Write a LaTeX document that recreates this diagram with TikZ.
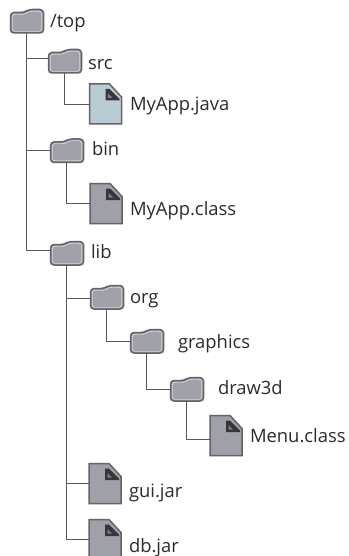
\documentclass[tikz,border=0pt]{standalone}
\usepackage{fontspec}
\setmainfont{Open Sans}
\definecolor{iconline}{HTML}{636468}
\definecolor{iconfill}{HTML}{A0A1A8}
\definecolor{javafill}{HTML}{B9CCD3}
\definecolor{cornerdark}{HTML}{35353A}
\definecolor{branchline}{HTML}{58585C}
\definecolor{labeltext}{HTML}{2B2B2D}
\newcommand{\foldershape}{(0,3.5) -- (14,3.5) -- (18,0.5) -- (33,0.5) -- (33,24) -- (0,24) -- cycle}
\newcommand{\foldertrim}{(1.8,5.3) -- (14.7,5.3) -- (18.7,2.3) -- (31.2,2.3) -- (31.2,22.3) -- (1.8,22.3) -- cycle}
\tikzset{
  every node/.style={inner sep=0pt, outer sep=0pt},
  folderbox/.style={minimum width=31pt, minimum height=24pt,
    append after command={\pgfextra{
      \draw [iconline, line width=1.5pt, fill=iconfill, rounded corners=3.5pt, shift={(\tikzlastnode.north west)}] \foldershape;
      \draw [white, line width=0.35pt, rounded corners=2.5pt, shift={(\tikzlastnode.north west)}] \foldertrim;
    }}},
  filebox/.style={minimum width=32pt, minimum height=40pt,
    append after command={\pgfextra{
      \draw [iconline, line width=1.5pt, fill=#1, shift={(\tikzlastnode.north west)}] (0,0) -- (20,0) -- (32,13) -- (32,40) -- (0,40) -- cycle;
      \fill [cornerdark, shift={(\tikzlastnode.north west)}] (16,5) -- (20,5) -- (30,15) -- (30,16.5) -- (16,16.5) -- cycle;
      \fill [gray, shift={(\tikzlastnode.north west)}] (18.5,9.5) -- (18.5,14) -- (23,14) -- cycle;
    }}},
  filebox/.default=iconfill,
  branch/.style={branchline, line width=0.9pt},
  itemlabel/.style={anchor=base west, text=labeltext, font=\fontsize{18.4}{20}\selectfont},
}
\begin{document}
\begin{tikzpicture}[x=1pt, y=-1pt]
\useasboundingbox (0,0) rectangle (348,556);

\node [folderbox] (top) at (26,21) {};
\node [folderbox] (src) at (64,61) {};
\node [folderbox] (bin) at (66,150.5) {};
\node [folderbox] (lib) at (66,253) {};
\node [folderbox] (org) at (106,297) {};
\node [folderbox] (graphics) at (146,341) {};
\node [folderbox] (draw3d) at (186,389) {};

\node [filebox=javafill] (java) at (105.5,104) {};
\node [filebox] (class) at (106,203.5) {};
\node [filebox] (menu) at (226,435.5) {};
\node [filebox] (gui) at (105,483.5) {};
\node [filebox] (db) at (105,539.5) {};

\draw [branch] (top.south) |- ([yshift=3pt]src.west);
\draw [branch] (top.south) |- (bin.west);
\draw [branch] (top.south) |- ([yshift=3pt]lib.west);
\draw [branch] (src.south) |- (java.west);
\draw [branch] (bin.south) |- (class.west);
\draw [branch] (lib.south) |- ([yshift=-1pt]org.west);
\draw [branch] (lib.south) |- (gui.west);
\draw [branch] (lib.south) |- (db.west);
\draw [branch] (org.south) |- (graphics.west);
\draw [branch] (graphics.south) |- (draw3d.west);
\draw [branch] (draw3d.south) |- ([yshift=-3.5pt]menu.west);

\node [itemlabel] (toplabel) at (50,28) {/top};
\node [itemlabel] (srclabel) at (88,70) {src};
\node [itemlabel] (javalabel) at (130,111) {MyApp.java};
\node [itemlabel] (binlabel) at (92,156) {bin};
\node [itemlabel] (classlabel) at (130,215) {MyApp.class};
\node [itemlabel] (liblabel) at (91,258) {lib};
\node [itemlabel] (orglabel) at (130,303) {org};
\node [itemlabel] (graphicslabel) at (178,348) {graphics};
\node [itemlabel] (drawlabel) at (218,394) {draw3d};
\node [itemlabel] (menulabel) at (250,442) {Menu.class};
\node [itemlabel] (guilabel) at (129,497) {gui.jar};
\node [itemlabel] (dblabel) at (129,552) {db.jar};

\end{tikzpicture}
\end{document}
